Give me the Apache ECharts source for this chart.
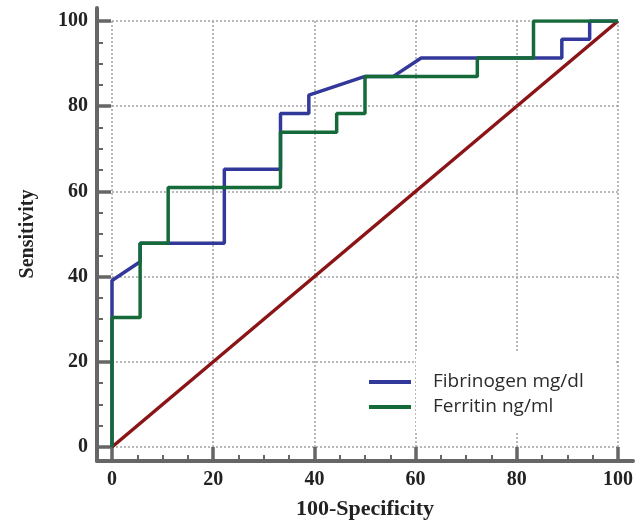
<!DOCTYPE html>
<html>
<head>
<meta charset="utf-8">
<script src="https://cdn.jsdelivr.net/npm/echarts@6/dist/echarts.min.js"></script>
<style>
  html, body { margin: 0; padding: 0; background: #fff; }
  #main { width: 636px; height: 525px; }
</style>
</head>
<body>
<div id="main"></div>
<script>
// ROC curves (100-Specificity, Sensitivity)
var fibX = [0, 0, 5.56, 5.56, 22.2, 22.2, 33.3, 33.3, 38.9, 38.9, 50, 55.6, 61.1, 88.9, 88.9, 94.4, 94.4, 100];
var fibY = [0, 39.1, 43.5, 47.8, 47.8, 65.2, 65.2, 78.3, 78.3, 82.6, 87.0, 87.0, 91.3, 91.3, 95.7, 95.7, 100, 100];
var ferX = [0, 0, 5.56, 5.56, 11.1, 11.1, 33.3, 33.3, 44.4, 44.4, 50, 50, 72.2, 72.2, 83.3, 83.3, 100];
var ferY = [0, 30.4, 30.4, 47.8, 47.8, 60.9, 60.9, 73.9, 73.9, 78.3, 78.3, 87.0, 87.0, 91.3, 91.3, 100, 100];
var refX = [0, 100];
var refY = [0, 100];
var names = ['Fibrinogen mg/dl', 'Ferritin ng/ml'];

function pairs(xs, ys) {
  return xs.map(function (x, i) { return [x, ys[i]]; });
}

var chart = echarts.init(document.getElementById('main'));
var axisColor = '#666';
var serif = { fontFamily: 'Liberation Serif', fontWeight: 'bold', fontSize: 20, color: '#222' };

var option = {
  animation: false,
  grid: [
    { left: 112, right: 18, top: 21, bottom: 78 },
    // only for the long axis lines
    { left: 97, right: 3, top: 8, bottom: 64 }
  ],
  legend: {
    data: names,
    orient: 'vertical',
    left: 369,
    top: 372,
    padding: 0,
    itemGap: 5,
    itemWidth: 42,
    itemHeight: 4,
    icon: 'rect',
    textStyle: {
      fontFamily: 'Open Sans',
      fontSize: 19,
      lineHeight: 20,
      color: '#2b2b2b',
      padding: [0, 0, 0, 17]
    }
  },
  graphic: [{
    type: 'rect',
    z: 1,
    shape: { x: 416, y: 352, width: 200, height: 80 },
    style: { fill: '#fff' }
  }],
  xAxis: [{
    type: 'value',
    min: 0, max: 100, interval: 20,
    offset: 14,
    name: '100-Specificity',
    nameLocation: 'middle',
    nameGap: 37,
    nameTextStyle: { fontFamily: 'Liberation Serif', fontWeight: 'bold', fontSize: 22, color: '#222' },
    axisLine: { show: false, onZero: false },
    axisTick: { show: true, inside: true, length: 14, lineStyle: { color: axisColor, width: 3.5 } },
    minorTick: { show: true, splitNumber: 4, length: 6, lineStyle: { color: axisColor, width: 2 } },
    axisLabel: Object.assign({ margin: 9 }, serif),
    splitLine: { show: true, lineStyle: { color: '#a3a3a3', width: 1.5, type: [2, 2] } }
  }, {
    gridIndex: 1, type: 'value', min: 0, max: 1, position: 'bottom',
    axisLine: { show: true, onZero: false, lineStyle: { color: axisColor, width: 4 } },
    axisTick: { show: false }, axisLabel: { show: false }, splitLine: { show: false }
  }],
  yAxis: [{
    type: 'value',
    min: 0, max: 100, interval: 20,
    offset: 15,
    name: 'Sensitivity',
    nameLocation: 'middle',
    nameGap: 59,
    nameTextStyle: { fontFamily: 'Liberation Serif', fontWeight: 'bold', fontSize: 20, color: '#222' },
    axisLine: { show: false, onZero: false },
    axisTick: { show: true, inside: true, length: 14, lineStyle: { color: axisColor, width: 3.5 } },
    minorTick: { show: true, splitNumber: 4, length: 6, lineStyle: { color: axisColor, width: 2 } },
    axisLabel: Object.assign({ margin: 9 }, serif),
    splitLine: { show: true, lineStyle: { color: '#a3a3a3', width: 1.5, type: [2, 2] } }
  }, {
    gridIndex: 1, type: 'value', min: 0, max: 1, position: 'left',
    axisLine: { show: true, onZero: false, lineStyle: { color: axisColor, width: 4 } },
    axisTick: { show: false }, axisLabel: { show: false }, splitLine: { show: false }
  }],
  series: [
    {
      name: 'reference',
      type: 'line',
      data: pairs(refX, refY),
      showSymbol: false,
      lineStyle: { color: '#8b1516', width: 3.5 },
      itemStyle: { color: '#8b1516' }
    },
    {
      name: names[0],
      type: 'line',
      data: pairs(fibX, fibY),
      showSymbol: false,
      lineStyle: { color: '#33399a', width: 3.5 },
      itemStyle: { color: '#33399a' }
    },
    {
      name: names[1],
      type: 'line',
      data: pairs(ferX, ferY),
      showSymbol: false,
      lineStyle: { color: '#156a39', width: 3.5 },
      itemStyle: { color: '#156a39' }
    }
  ]
};
chart.setOption(option);
</script>
</body>
</html>
